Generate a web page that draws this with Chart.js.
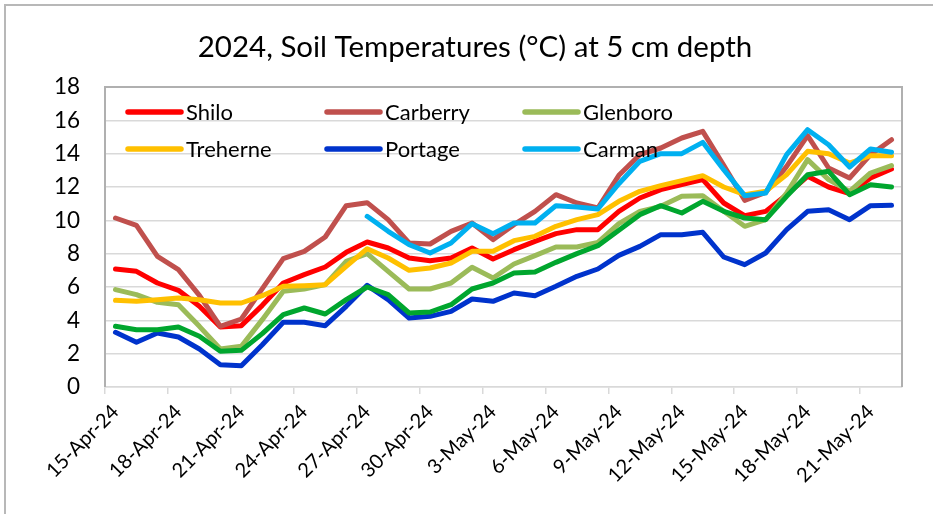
<!DOCTYPE html>
<html>
<head>
<meta charset="utf-8">
<script src="https://cdn.jsdelivr.net/npm/chart.js@4.4.1/dist/chart.umd.min.js"></script>
<style>
  html, body { margin: 0; padding: 0; background: #ffffff; }
  #wrap { width: 933px; height: 514px; position: relative; }
  canvas { display: block; }
</style>
</head>
<body>
<div id="wrap"><canvas id="c" width="933" height="514"></canvas></div>
<script>
// ---- Data ----
const dates = [
  "15-Apr-24","16-Apr-24","17-Apr-24","18-Apr-24","19-Apr-24","20-Apr-24","21-Apr-24","22-Apr-24",
  "23-Apr-24","24-Apr-24","25-Apr-24","26-Apr-24","27-Apr-24","28-Apr-24","29-Apr-24","30-Apr-24",
  "1-May-24","2-May-24","3-May-24","4-May-24","5-May-24","6-May-24","7-May-24","8-May-24",
  "9-May-24","10-May-24","11-May-24","12-May-24","13-May-24","14-May-24","15-May-24","16-May-24",
  "17-May-24","18-May-24","19-May-24","20-May-24","21-May-24","22-May-24"
];

const shilo = [7.08,6.94,6.24,5.8,4.84,3.6,3.68,4.9,6.24,6.74,7.2,8.08,8.7,8.34,7.74,7.58,7.74,8.34,7.68,8.24,8.74,9.2,9.44,9.44,10.54,11.34,11.84,12.14,12.44,11.04,10.28,10.54,11.54,12.64,12.0,11.6,12.54,13.08];
const carberry = [10.14,9.7,7.84,7.04,5.5,3.64,4.08,5.9,7.7,8.14,9.0,10.88,11.06,10.04,8.64,8.58,9.34,9.84,8.84,9.74,10.54,11.54,11.04,10.74,12.7,13.94,14.34,14.94,15.34,13.3,11.2,11.68,13.24,15.08,13.14,12.54,13.94,14.84];
const glenboro = [5.84,5.54,5.08,4.94,3.64,2.28,2.44,4.04,5.74,5.88,6.14,7.54,8.0,6.94,5.88,5.88,6.24,7.18,6.54,7.38,7.88,8.4,8.4,8.68,9.8,10.54,10.84,11.44,11.48,10.54,9.64,10.04,11.64,13.64,12.44,11.74,12.84,13.28];
const treherne = [5.2,5.14,5.24,5.34,5.24,5.04,5.04,5.48,6.04,6.08,6.14,7.24,8.3,7.74,7.0,7.14,7.44,8.14,8.14,8.78,9.04,9.64,10.04,10.34,11.14,11.74,12.08,12.38,12.68,12.0,11.54,11.74,12.74,14.14,14.0,13.44,13.88,13.88];
const portage = [3.28,2.68,3.24,3.0,2.28,1.34,1.28,2.54,3.88,3.88,3.68,4.84,6.1,5.24,4.14,4.24,4.54,5.28,5.14,5.64,5.48,6.04,6.64,7.08,7.9,8.44,9.14,9.14,9.28,7.8,7.34,8.04,9.44,10.54,10.64,10.04,10.88,10.9];
const carman = [null,null,null,null,null,null,null,null,null,null,null,null,10.24,9.34,8.54,8.04,8.64,9.8,9.2,9.84,9.84,10.88,10.8,10.68,12.2,13.54,14.0,14.0,14.68,13.04,11.48,11.64,13.94,15.44,14.54,13.2,14.28,14.08];
// seventh series (dark green) has no legend entry in the reference
const unlabeled = [3.64,3.44,3.44,3.6,3.04,2.14,2.2,3.2,4.34,4.74,4.38,5.24,6.0,5.54,4.44,4.5,4.94,5.88,6.24,6.84,6.9,7.48,8.0,8.48,9.4,10.34,10.88,10.44,11.14,10.54,10.14,10.04,11.44,12.74,12.94,11.54,12.14,12.0];

const yTicks = [0,2,4,6,8,10,12,14,16,18];
const titleText = "2024, Soil Temperatures (°C) at 5 cm depth";
const legendNames = ["Shilo","Carberry","Glenboro","Treherne","Portage","Carman"];

const FONT = "Lato";
const colors = ["#ff0000","#c0504d","#9bbb59","#ffc000","#0033cc","#00b0f0","#00a62e"];
const seriesData = [shilo, carberry, glenboro, treherne, portage, carman, unlabeled];
const seriesLabels = [...legendNames, ""];

const datasets = seriesData.map((d, i) => ({
  label: seriesLabels[i],
  data: d,
  borderColor: colors[i],
  backgroundColor: colors[i],
  borderWidth: 5,
  pointRadius: 0,
  pointHoverRadius: 0,
  tension: 0,
  fill: false,
  spanGaps: false,
  borderJoinStyle: "round",
  borderCapStyle: "round",
  order: seriesData.length - i
}));

// Frame plugin: outer border, title, plot border (left/top/right)
const framePlugin = {
  id: "frame",
  beforeDraw(chart) {
    const ctx = chart.ctx;
    ctx.save();
    ctx.fillStyle = "#ffffff";
    ctx.fillRect(0, 0, chart.width, chart.height);
    ctx.strokeStyle = "#b8b8b8";
    ctx.lineWidth = 2;
    ctx.strokeRect(5, 5, chart.width + 20, chart.height + 20);
    // title
    ctx.fillStyle = "#000000";
    ctx.font = "29.5px " + FONT;
    ctx.textAlign = "center";
    ctx.textBaseline = "middle";
    ctx.fillText(titleText, 475, 47);
    ctx.restore();
  },
  beforeDatasetsDraw(chart) {
    const a = chart.chartArea, ctx = chart.ctx;
    ctx.save();
    ctx.strokeStyle = "#b0b0b0";
    ctx.lineWidth = 2;
    ctx.beginPath();
    ctx.moveTo(a.left, a.bottom);
    ctx.lineTo(a.left, a.top);
    ctx.lineTo(a.right, a.top);
    ctx.lineTo(a.right, a.bottom);
    ctx.stroke();
    ctx.restore();
  }
};

// Custom legend drawn inside the plot area (3 columns x 2 rows)
const legendPlugin = {
  id: "insideLegend",
  afterDatasetsDraw(chart) {
    const a = chart.chartArea, ctx = chart.ctx;
    const colX = [23, 222, 420];
    const rowY = [25, 62];
    ctx.save();
    ctx.font = "22px " + FONT;
    ctx.textBaseline = "middle";
    ctx.textAlign = "left";
    legendNames.forEach((name, i) => {
      const col = i % 3, row = Math.floor(i / 3);
      const x = a.left + colX[col], y = a.top + rowY[row];
      ctx.strokeStyle = colors[i];
      ctx.lineWidth = 5.5;
      ctx.lineCap = "round";
      ctx.beginPath();
      ctx.moveTo(x, y);
      ctx.lineTo(x + 53, y);
      ctx.stroke();
      ctx.fillStyle = "#000000";
      ctx.fillText(name, x + 58, y + 1);
    });
    ctx.restore();
  }
};

new Chart(document.getElementById("c"), {
  type: "line",
  data: { labels: dates, datasets },
  options: {
    responsive: false,
    animation: false,
    devicePixelRatio: 1,
    layout: { padding: { left: 0, right: 31, top: 87, bottom: 0 } },
    plugins: {
      legend: { display: false },
      tooltip: { enabled: false },
      title: { display: false }
    },
    scales: {
      x: {
        type: "category",
        offset: true,
        grid: {
          offset: true,
          drawOnChartArea: false,
          drawTicks: true,
          tickLength: 7,
          lineWidth: 1.5,
          color: (c) => (c.index % 3 === 0 ? "#d9d9d9" : "rgba(0,0,0,0)")
        },
        border: { display: true, color: "#d9d9d9", width: 1.5 },
        ticks: {
          autoSkip: false,
          minRotation: 45,
          maxRotation: 45,
          padding: 6,
          color: "#000000",
          font: { family: FONT, size: 20 },
          callback: function (v, i) { return i % 3 === 0 ? this.getLabelForValue(v) : ""; }
        },
        afterFit: (s) => { s.height = 127; }
      },
      y: {
        min: yTicks[0],
        max: yTicks[yTicks.length - 1],
        afterBuildTicks: (s) => { s.ticks = yTicks.map(v => ({ value: v })); },
        grid: { color: "#d9d9d9", lineWidth: 1.5, drawTicks: false },
        border: { display: false },
        ticks: {
          padding: 25,
          color: "#000000",
          font: { family: FONT, size: 22.5 }
        },
        afterFit: (s) => { s.width = 105; }
      }
    }
  },
  plugins: [framePlugin, legendPlugin]
});
</script>
</body>
</html>
